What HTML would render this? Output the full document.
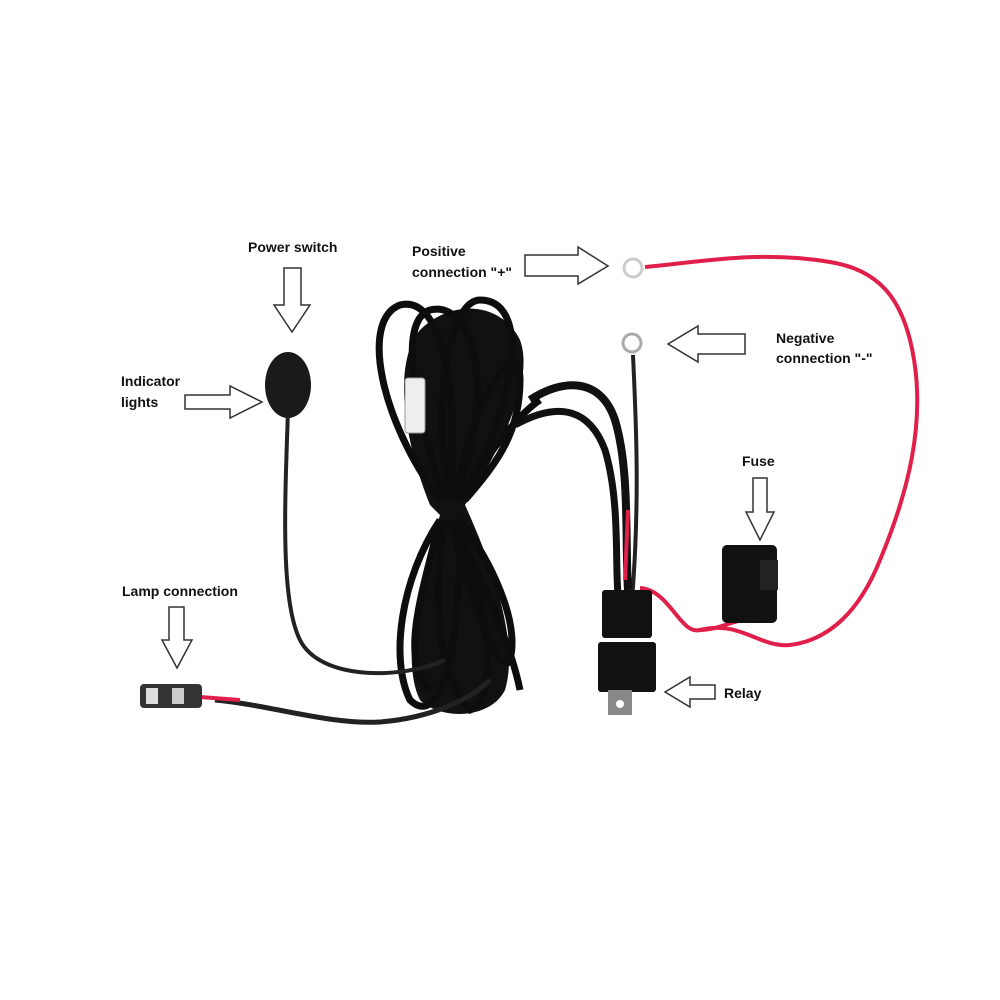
<!DOCTYPE html>
<html><head><meta charset="utf-8"><style>
html,body{margin:0;padding:0;background:#fff;}
svg{display:block}
text{font-family:"Liberation Sans",sans-serif;font-weight:bold;font-size:14px;fill:#111}
</style></head><body>
<svg width="1000" height="1000" viewBox="0 0 1000 1000" xmlns="http://www.w3.org/2000/svg">
<rect width="1000" height="1000" fill="#fff"/>
<!-- red wire positive -->
<path d="M645,267 C700,262 760,250 830,262 C880,270 900,300 910,340 C930,420 905,500 880,560 C860,610 830,640 790,645 C760,648 740,620 700,630 C680,635 670,590 640,588" fill="none" stroke="#e0204a" stroke-width="4"/>
<path d="M700,630 C720,630 735,618 760,618" fill="none" stroke="#e0204a" stroke-width="4"/>
<!-- fuse -->
<rect x="722" y="545" width="55" height="78" rx="5" fill="#111"/>
<rect x="760" y="560" width="18" height="30" fill="#222"/>
<!-- negative wire -->
<path d="M633,355 C636,420 640,500 632,600" fill="none" stroke="#222" stroke-width="4"/>
<circle cx="632" cy="343" r="9" fill="#fff" stroke="#aaa" stroke-width="3"/>
<circle cx="633" cy="268" r="9" fill="#fff" stroke="#ccc" stroke-width="3"/>
<!-- harness to relay -->
<path d="M530,400 C560,380 600,375 615,420 C630,470 625,540 628,590" fill="none" stroke="#111" stroke-width="8"/>
<path d="M515,425 C560,400 590,410 605,450 C620,500 615,560 618,595" fill="none" stroke="#111" stroke-width="7"/>
<path d="M628,510 L625,580" stroke="#e0204a" stroke-width="4"/>
<!-- relay -->
<rect x="602" y="590" width="50" height="48" rx="3" fill="#111"/>
<rect x="598" y="642" width="58" height="50" rx="3" fill="#111"/>
<rect x="608" y="690" width="24" height="25" fill="#888"/>
<circle cx="620" cy="704" r="4" fill="#fff"/>
<!-- bundle mass -->
<path d="M430,505 C400,430 395,360 420,330 C450,300 500,300 520,340 C535,380 500,450 465,505 C490,560 520,640 505,690 C490,720 440,720 420,700 C400,660 420,580 440,515 Z" fill="#111"/>
<g fill="none" stroke="#0d0d0d" stroke-width="7">
<path d="M440,500 C380,420 360,320 400,305 C440,295 460,380 450,500"/>
<path d="M445,500 C410,400 400,320 430,310 C470,300 500,380 455,500"/>
<path d="M450,500 C430,400 450,300 480,300 C530,300 520,400 460,500"/>
<path d="M455,500 C470,400 520,330 520,380 C520,430 500,460 465,500"/>
<path d="M440,520 C400,580 390,660 410,700 C430,720 460,700 460,520"/>
<path d="M445,520 C430,600 440,680 470,710 C500,700 490,600 455,520"/>
<path d="M450,520 C470,600 500,680 510,660 C520,620 490,560 460,520"/>
<path d="M440,520 C420,600 400,660 430,690"/>
<path d="M455,500 C480,470 510,420 540,400"/>
<path d="M455,520 C480,580 510,640 520,690"/>
</g>
<rect x="405" y="378" width="20" height="55" rx="3" fill="#eee" stroke="#999"/>
<!-- switch cable -->
<path d="M288,410 C285,500 280,600 300,640 C320,680 400,680 445,660" fill="none" stroke="#222" stroke-width="4"/>
<ellipse cx="288" cy="385" rx="23" ry="33" fill="#1a1a1a"/>
<!-- lamp cable -->
<path d="M215,700 C270,705 330,725 380,722 C430,718 470,700 490,680" fill="none" stroke="#222" stroke-width="5"/>
<path d="M200,697 L240,700" stroke="#e0204a" stroke-width="4"/>
<rect x="140" y="684" width="62" height="24" rx="4" fill="#333"/>
<rect x="146" y="688" width="12" height="16" fill="#ddd"/>
<rect x="172" y="688" width="12" height="16" fill="#ccc"/>
<!-- arrows -->
<g fill="#fff" stroke="#333" stroke-width="1.5">
<path d="M284,268 H301 V305 H310 L292,332 L274,305 H284 Z"/>
<path d="M185,395 H230 V386 L262,402 L230,418 V409 H185 Z"/>
<path d="M525,255 H578 V247 L608,266 L578,284 V276 H525 Z"/>
<path d="M745,334 H698 V326 L668,344 L698,362 V354 H745 Z"/>
<path d="M753,478 H767 V512 H774 L760,540 L746,512 H753 Z"/>
<path d="M169,607 H184 V640 H192 L177,668 L162,640 H169 Z"/>
<path d="M715,685 H690 V677 L665,692 L690,707 V699 H715 Z"/>
</g>
<text x="248" y="252">Power switch</text>
<text x="412" y="256">Positive</text>
<text x="412" y="277">connection "+"</text>
<text x="776" y="343">Negative</text>
<text x="776" y="363">connection "-"</text>
<text x="121" y="386">Indicator</text>
<text x="121" y="407">lights</text>
<text x="742" y="466">Fuse</text>
<text x="122" y="596">Lamp connection</text>
<text x="724" y="698">Relay</text>
</svg>
</body></html>
